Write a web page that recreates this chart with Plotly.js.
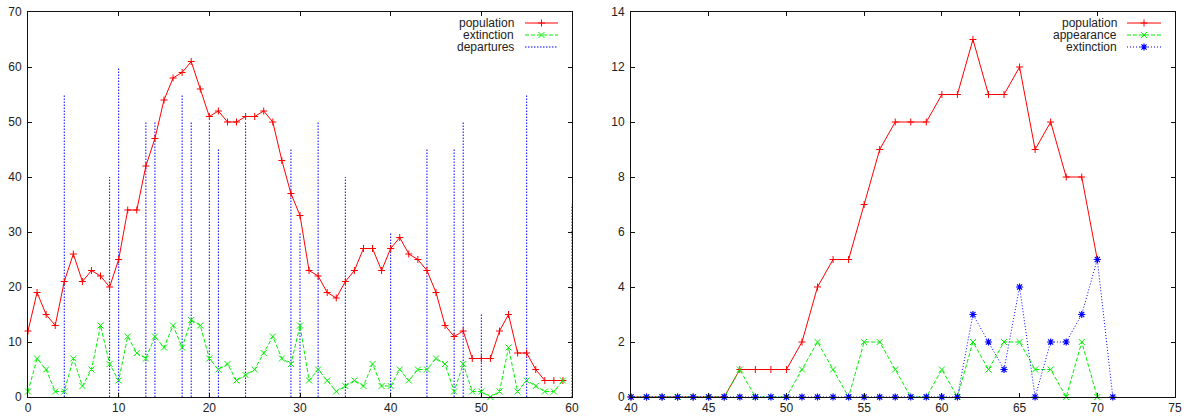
<!DOCTYPE html>
<html><head><meta charset="utf-8">
<script src="https://cdn.plot.ly/plotly-3.0.1.min.js"></script>
<style>html,body{margin:0;padding:0;background:#fff}#chart{width:1189px;height:417px}</style>
</head><body><div id="chart"></div>
<script>
// ---- left panel data ----
const leftSteps = [0,1,2,3,4,5,6,7,8,9,10,11,12,13,14,15,16,17,18,19,20,21,22,23,24,25,26,27,28,29,30,31,32,33,34,35,36,37,38,39,40,41,42,43,44,45,46,47,48,49,50,51,52,53,54,55,56,57,58,59];
const leftPopulation = [12,19,15,13,21,26,21,23,22,20,25,34,34,42,47,54,58,59,61,56,51,52,50,50,51,51,52,50,43,37,33,23,22,19,18,21,23,27,27,23,27,29,26,25,23,19,13,11,12,7,7,7,12,15,8,8,5,3,3,3];
const leftExtinction = [1,7,5,1,1,7,2,5,13,6,3,11,8,7,11,9,13,9,14,13,7,5,6,3,4,5,8,11,7,6,13,3,5,3,1,2,3,2,6,2,2,5,3,5,5,7,6,1,6,1,1,0,1,9,1,3,2,1,1,3];
const departureSteps = [4,9,10,13,14,17,18,20,21,24,29,30,32,35,40,44,47,48,50,55,60];
const departureValues = [55,40,60,50,50,55,50,50,45,50,45,30,50,40,30,45,45,50,15,55,35];

// ---- right panel data ----
const rightSteps = [40,41,42,43,44,45,46,47,48,49,50,51,52,53,54,55,56,57,58,59,60,61,62,63,64,65,66,67,68,69,70];
const rightPopulation = [0,0,0,0,0,0,0,1,1,1,1,2,4,5,5,7,9,10,10,10,11,11,13,11,11,12,9,10,8,8,5];
const rightAppearance = [0,0,0,0,0,0,0,1,0,0,0,1,2,1,0,2,2,1,0,0,1,0,2,1,2,2,1,1,0,2,0];
const rightExtSteps = [40,41,42,43,44,45,46,47,48,49,50,51,52,53,54,55,56,57,58,59,60,61,62,63,64,65,66,67,68,69,70,71];
const rightExtinction = [0,0,0,0,0,0,0,0,0,0,0,0,0,0,0,0,0,0,0,0,0,0,3,2,1,4,0,2,2,3,5,0];

const leftLegend = ['population','extinction','departures'];
const rightLegend = ['population','appearance','extinction'];

// ---- styles ----
const W = 1189, H = 417;
const RED = '#ff0000', GREEN = '#00f000', BLUE = '#0000ff';
const FONT = 'Liberation Sans, Arial, Helvetica, sans-serif';
const popStyle = {mode:'lines+markers', line:{color:RED, width:1}, marker:{symbol:'cross-thin-open', size:5, line:{color:RED, width:1}}};
const greenStyle = {mode:'lines+markers', line:{color:GREEN, width:1, dash:'4px,2px'}, marker:{symbol:'x-thin-open', size:6, line:{color:GREEN, width:1}}};
const blueStarStyle = {mode:'lines+markers', line:{color:BLUE, width:1, dash:'1px,2px'}, marker:{symbol:'asterisk-open', size:6, line:{color:BLUE, width:1.2}}};
const depStyle = {mode:'lines', line:{color:BLUE, width:1, dash:'1.5px,1.5px'}};

function tr(x, y, style, xa, ya) {
  return Object.assign({type:'scatter', x:x, y:y, xaxis:xa, yaxis:ya, cliponaxis:false, hoverinfo:'skip', showlegend:false}, JSON.parse(JSON.stringify(style)));
}

// impulses for departures
const depXs = [], depYs = [];
departureSteps.forEach((s, i) => { depXs.push(s, s, null); depYs.push(0, departureValues[i], null); });

const traces = [
  tr(depXs, depYs, depStyle, 'x', 'y'),
  tr(leftSteps, leftPopulation, popStyle, 'x', 'y'),
  tr(leftSteps, leftExtinction, greenStyle, 'x', 'y'),
  tr(rightSteps, rightPopulation, popStyle, 'x2', 'y2'),
  tr(rightSteps, rightAppearance, greenStyle, 'x2', 'y2'),
  tr(rightExtSteps, rightExtinction, blueStarStyle, 'x2', 'y2')
];

// manual gnuplot-style key (text left, sample right), drawn on a pixel overlay axis
const keyRows = [23, 35, 47];
const keys = [
  {textRight:516, x0:525, x1:558, labels:leftLegend, styles:[popStyle, greenStyle, depStyle]},
  {textRight:1119, x0:1127, x1:1161, labels:rightLegend, styles:[popStyle, greenStyle, blueStarStyle]}
];
const annotations = [];
keys.forEach(k => {
  k.labels.forEach((lab, i) => {
    const y = keyRows[i];
    const st = k.styles[i];
    const lineOnly = JSON.parse(JSON.stringify(st)); lineOnly.mode = 'lines';
    traces.push(tr([k.x0, k.x1], [y, y], lineOnly, 'x3', 'y3'));
    if (st.marker) {
      const mk = JSON.parse(JSON.stringify(st)); mk.mode = 'markers';
      traces.push(tr([(k.x0 + k.x1) / 2], [y], mk, 'x3', 'y3'));
    }
    annotations.push({xref:'paper', yref:'paper', x:k.textRight / W, y:1 - y / H, xanchor:'right', yanchor:'middle',
      text:lab, showarrow:false, font:{family:FONT, size:12, color:'#222'}});
  });
});

const axisCommon = {showline:true, mirror:'ticks', linecolor:'#111', linewidth:1, ticks:'inside', ticklen:4,
  tickcolor:'#111', tickwidth:1, showgrid:false, zeroline:false, fixedrange:true,
  tickfont:{family:FONT, size:12, color:'#222'}};
const yDomain = [20 / H, 405 / H];

const layout = {
  width:W, height:H, margin:{l:0, r:0, t:0, b:0, pad:0},
  paper_bgcolor:'#ffffff', plot_bgcolor:'rgba(0,0,0,0)', showlegend:false,
  xaxis: Object.assign({}, axisCommon, {domain:[28 / W, 572 / W], range:[0, 60], tick0:0, dtick:10, anchor:'y'}),
  yaxis: Object.assign({}, axisCommon, {domain:yDomain, range:[0, 70], tick0:0, dtick:10, anchor:'x', ticklabelstandoff:3}),
  xaxis2: Object.assign({}, axisCommon, {domain:[631 / W, 1175 / W], range:[40, 75], tick0:40, dtick:5, anchor:'y2'}),
  yaxis2: Object.assign({}, axisCommon, {domain:yDomain, range:[0, 14], tick0:0, dtick:2, anchor:'x2', ticklabelstandoff:3}),
  xaxis3: {domain:[0, 1], range:[0, W], visible:false, fixedrange:true, anchor:'y3'},
  yaxis3: {domain:[0, 1], range:[H, 0], visible:false, fixedrange:true, anchor:'x3'},
  annotations: annotations
};

Plotly.newPlot('chart', traces, layout, {staticPlot:true, displayModeBar:false});
</script></body></html>
